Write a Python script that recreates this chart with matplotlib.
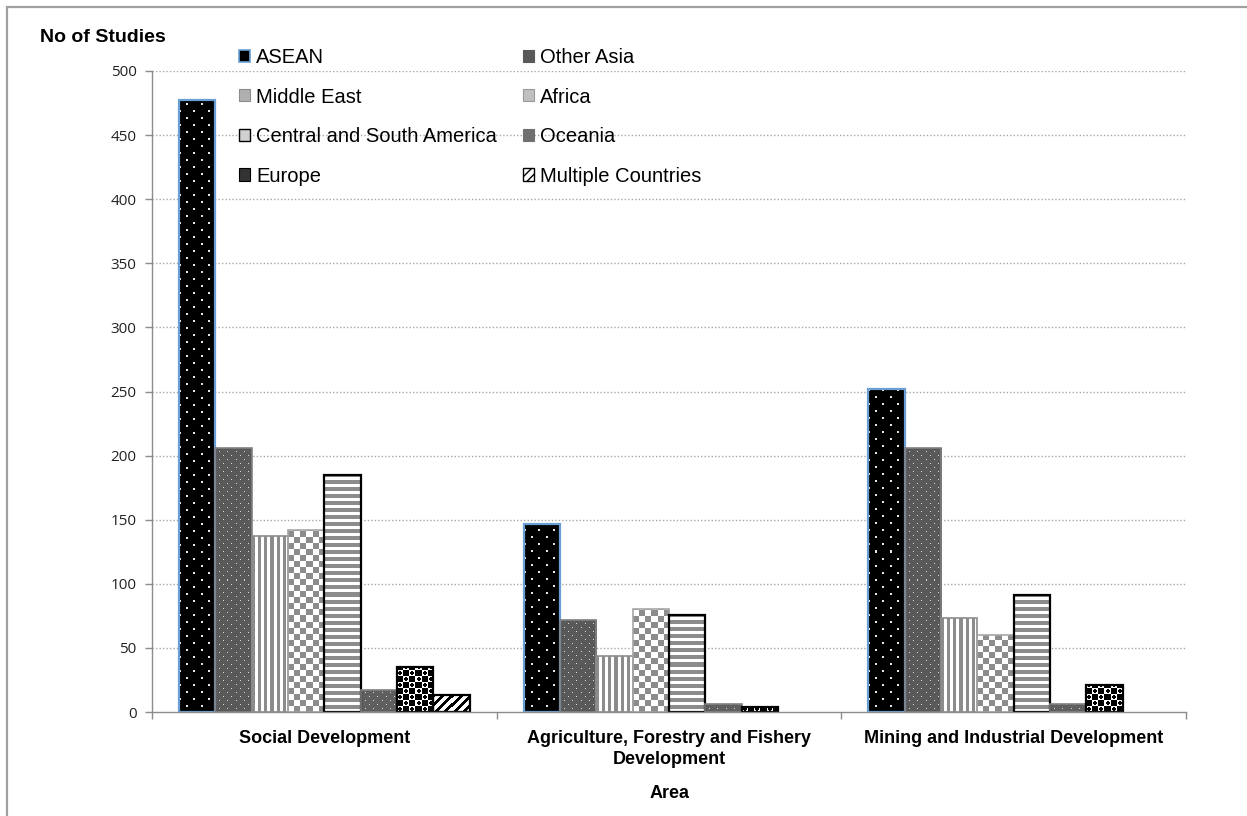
import numpy as np
import matplotlib
matplotlib.use("Agg")
import matplotlib.pyplot as plt
from matplotlib.patches import Patch, Rectangle

# ---- data -------------------------------------------------------------
categories = ["Social Development",
              "Agriculture, Forestry and Fishery\nDevelopment",
              "Mining and Industrial Development"]
series = ["ASEAN", "Other Asia", "Middle East", "Africa",
          "Central and South America", "Oceania", "Europe",
          "Multiple Countries"]
asean = [477, 147, 252]
other_asia = [206, 72, 206]
middle_east = [137, 44, 73]
africa = [142, 80, 60]
cs_america = [185, 76, 91]
oceania = [17, 6, 6]
europe = [35, 4, 21]
multiple = [13, 0, 0]
values = [asean, other_asia, middle_east, africa, cs_america, oceania,
          europe, multiple]
yticks = list(range(0, 501, 50))


# ---- fill textures (pixel tiles) -------------------------------------
def rgb(hexcol):
    hexcol = hexcol.lstrip("#")
    return np.array([int(hexcol[i:i + 2], 16) for i in (0, 2, 4)]) / 255.0


def dots(period, base, dot, size=2):
    t = np.ones((period, period, 3)) * rgb(base)
    h = period // 2
    t[0:size, 0:size] = rgb(dot)
    t[h:h + size, h:h + size] = rgb(dot)
    return t


def vstripes(period, on, col, bg="#ffffff"):
    t = np.ones((1, period, 3)) * rgb(bg)
    t[:, :on] = rgb(col)
    return t


def hstripes(period, on, col, bg="#ffffff"):
    t = np.ones((period, 1, 3)) * rgb(bg)
    t[:on, :] = rgb(col)
    return t


def checker(cell, col, bg="#ffffff"):
    t = np.ones((2 * cell, 2 * cell, 3)) * rgb(bg)
    t[:cell, :cell] = rgb(col)
    t[cell:, cell:] = rgb(col)
    return t


def blobs(cell):
    # black/white checker with round black blobs on the white cells
    n = 2 * cell
    t = np.ones((n, n, 3))
    yy, xx = np.mgrid[0:n, 0:n]
    black = ((yy < cell) & (xx < cell)) | ((yy >= cell) & (xx >= cell))
    c = cell + cell / 2 - 0.5
    r = cell / 2 - 0.5
    black |= ((yy - (cell / 2 - 0.5)) ** 2 + (xx - c) ** 2) < (r * 0.8) ** 2
    black |= ((yy - c) ** 2 + (xx - (cell / 2 - 0.5)) ** 2) < (r * 0.8) ** 2
    t[black] = 0.0
    return t


def diagonal(period, on):
    t = np.ones((period, period, 3))
    yy, xx = np.mgrid[0:period, 0:period]
    t[((xx + yy) % period) < on] = 0.0
    return t


tiles = [
    dots(14, "#000000", "#e6e6e6"),
    dots(8, "#595959", "#d9d9d9", size=1),
    vstripes(6, 3, "#8c8c8c"),
    checker(6, "#8c8c8c"),
    hstripes(7, 4, "#8c8c8c"),
    dots(8, "#5f5f5f", "#d9d9d9", size=1),
    blobs(6),
    diagonal(9, 4),
]
edge_colors = ["#6a9fd6", "#808080", "#8c8c8c", "#a6a6a6", "#000000",
               "#808080", "#000000", "#000000"]
edge_widths = [1.6, 1.2, 1.2, 1.2, 1.6, 1.2, 1.6, 1.6]

# legend swatches
legend_styles = [
    dict(facecolor="#000000", edgecolor="#6a9fd6", linewidth=1.2),
    dict(facecolor="#595959", edgecolor="#595959", linewidth=0.8),
    dict(facecolor="#b0b0b0", edgecolor="#8c8c8c", linewidth=0.8),
    dict(facecolor="#c0c0c0", edgecolor="#9a9a9a", linewidth=0.8),
    dict(facecolor="#d0d0d0", edgecolor="#000000", linewidth=1.0),
    dict(facecolor="#707070", edgecolor="#707070", linewidth=0.8),
    dict(facecolor="#333333", edgecolor="#000000", linewidth=0.8),
    dict(facecolor="#ffffff", edgecolor="#000000", linewidth=1.0,
         hatch="////"),
]

# ---- figure -----------------------------------------------------------
W, H = 1247, 816
fig = plt.figure(figsize=(W / 100, H / 100), dpi=100)
fig.patch.set_facecolor("white")
ax = fig.add_axes([152 / W, 1 - 712 / H, (1186 - 152) / W, (712 - 71) / H])

ax.set_xlim(-0.5, len(categories) - 0.5)
ax.set_ylim(0, 500)

n = len(series)
bw = 0.1053
x = np.arange(len(categories))

grid_col = "#a6a6a6"
for yv in yticks[1:]:
    ax.axhline(yv, color=grid_col, lw=1.0, ls=(0, (1, 1.5)), zorder=1)

for i, (name, vals) in enumerate(zip(series, values)):
    pos = x + (i - (n - 1) / 2) * bw
    bars = ax.bar(pos, vals, width=bw, facecolor="none",
                  edgecolor=edge_colors[i], linewidth=edge_widths[i],
                  zorder=3, label=name)
    tile = tiles[i]
    for b in bars:
        h = b.get_height()
        if h <= 0:
            b.set_visible(False)
            continue
        x0, x1 = b.get_x(), b.get_x() + b.get_width()
        (px0, py0), (px1, py1) = ax.transData.transform([(x0, 0), (x1, h)])
        wpx = max(int(round(px1 - px0)), 1)
        hpx = max(int(round(py1 - py0)), 1)
        ry = hpx // tile.shape[0] + 2
        rx = wpx // tile.shape[1] + 2
        img = np.tile(tile, (ry, rx, 1))[-hpx:, :wpx]
        im = ax.imshow(img, extent=(x0, x1, 0, h), aspect="auto",
                       interpolation="nearest", zorder=2)
        im.set_clip_path(b)

ax.set_xlim(-0.5, len(categories) - 0.5)
ax.set_ylim(0, 500)

# axes styling
axis_col = "#8c8c8c"
for s in ("top", "right"):
    ax.spines[s].set_visible(False)
for s in ("left", "bottom"):
    ax.spines[s].set_color(axis_col)
    ax.spines[s].set_linewidth(1.0)
    ax.spines[s].set_zorder(4)

ax.set_yticks(yticks)
ax.set_yticklabels([str(v) for v in yticks], fontfamily="Open Sans",
                   fontsize=11, color="#222222")
ax.tick_params(axis="y", direction="out", length=5, width=1.0,
               color=axis_col, pad=6)

ax.set_xticks(x)
ax.set_xticklabels(categories, fontfamily="Liberation Sans",
                   fontweight="bold", fontsize=13, linespacing=1.3,
                   va="top")
ax.tick_params(axis="x", which="major", length=0, pad=13)
ax.set_xticks(np.arange(-0.5, len(categories), 1.0), minor=True)
ax.tick_params(axis="x", which="minor", direction="out", length=5,
               width=1.0, color=axis_col)

fig.text(40 / W, 1 - 38 / H, "No of Studies", fontfamily="Liberation Sans",
         fontweight="bold", fontsize=14, ha="left", va="center")
fig.text(670 / W, 1 - 794 / H, "Area", fontfamily="Liberation Sans",
         fontweight="bold", fontsize=13, ha="center", va="center")

# legend filled row by row: two columns
order = [0, 2, 4, 6, 1, 3, 5, 7]
handles = [Patch(**legend_styles[k]) for k in order]
labels = [series[k] for k in order]
leg = fig.legend(handles, labels, loc="upper left", ncol=2,
                 bbox_to_anchor=(239 / W, 1 - 48 / H), frameon=False,
                 prop={"family": "Liberation Sans", "size": 14.5},
                 handlelength=0.55, handleheight=0.55, handletextpad=0.3,
                 columnspacing=1.3, labelspacing=1.02, borderpad=0.0,
                 borderaxespad=0.0)
leg.set_zorder(5)

# outer chart border
fig.add_artist(Rectangle((7 / W, -0.2), 1.5, 1.2 - 7 / H,
                         transform=fig.transFigure, fill=False,
                         edgecolor="#a0a0a0", linewidth=1.6))

fig.savefig("out.png", dpi=100, facecolor="white")
